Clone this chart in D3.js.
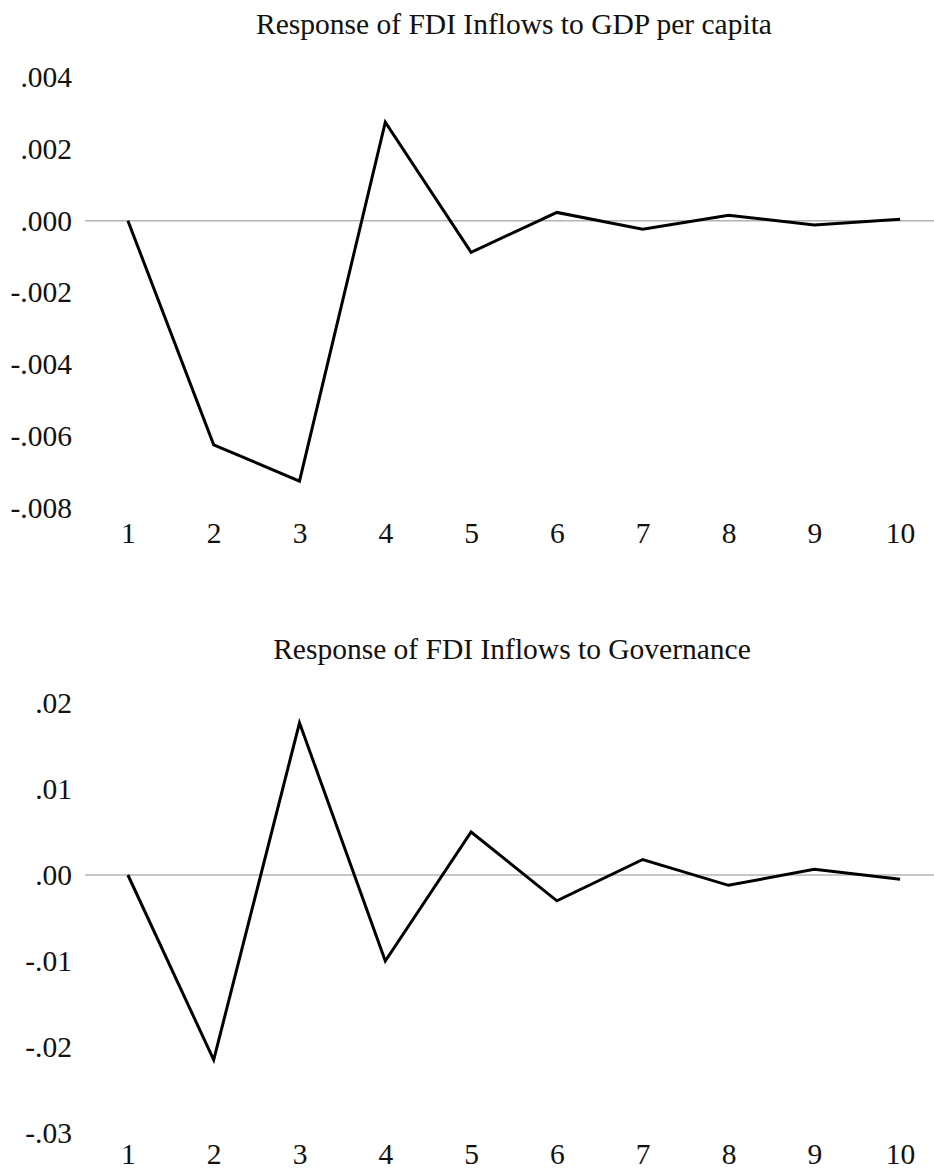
<!DOCTYPE html>
<html>
<head>
<meta charset="utf-8">
<script src="https://cdn.jsdelivr.net/npm/d3@7"></script>
<style>
  body { margin: 0; background: #fff; }
  svg { display: block; font-family: "Liberation Serif", "Times New Roman", serif; }
</style>
</head>
<body>
<div id="chart"></div>
<script>
// impulse response periods
const periods = [1, 2, 3, 4, 5, 6, 7, 8, 9, 10];

// response of FDI inflows to GDP per capita
const gdpResponse = [0.0, -0.00624, -0.00725, 0.00274, -0.00088, 0.00023, -0.00024, 0.00015, -0.00012, 0.00004];
const gdpTicks = [0.004, 0.002, 0.0, -0.002, -0.004, -0.006, -0.008];

// response of FDI inflows to governance
const govResponse = [0.0, -0.0215, 0.0177, -0.0100, 0.0050, -0.0030, 0.0018, -0.0012, 0.00066, -0.0005];
const govTicks = [0.02, 0.01, 0.0, -0.01, -0.02, -0.03];

const width = 934, height = 1171;
const fontSize = 29.5;

const svg = d3.select("#chart").append("svg")
    .attr("width", width)
    .attr("height", height);

const x = d3.scaleLinear()
    .domain([0.5, 10.5])
    .range([85, 943]);

// eviews style tick format: drop the leading zero
function fmt(digits) {
    const f = d3.format(`.${digits}f`);
    return v => f(v).replace("0.", ".").replace("−", "-");
}

function panel(opts) {
    const { title, titleX, titleY, values, ticks, domain, yRange, digits, xLabelY } = opts;
    const y = d3.scaleLinear().domain(domain).range(yRange);
    const g = svg.append("g");

    g.append("text")
        .attr("x", titleX)
        .attr("y", titleY)
        .attr("text-anchor", "middle")
        .attr("font-size", fontSize)
        .attr("fill", "#111")
        .text(title);

    // zero line
    g.append("line")
        .attr("x1", x(0.5))
        .attr("x2", x(10.5))
        .attr("y1", y(0))
        .attr("y2", y(0))
        .attr("stroke", "#b4b4b4")
        .attr("stroke-width", 1.5);

    const yAxis = d3.axisLeft(y)
        .tickValues(ticks)
        .tickFormat(fmt(digits))
        .tickSize(0)
        .tickPadding(0);

    g.append("g")
        .attr("transform", "translate(72,0)")
        .call(yAxis)
        .call(a => a.select(".domain").remove())
        .selectAll("text")
        .attr("font-family", "Liberation Serif")
        .attr("font-size", fontSize)
        .attr("fill", "#111");

    const xAxis = d3.axisBottom(x)
        .tickValues(periods)
        .tickFormat(d3.format("d"))
        .tickSize(0)
        .tickPadding(0);

    g.append("g")
        .attr("transform", `translate(0,${xLabelY})`)
        .call(xAxis)
        .call(a => a.select(".domain").remove())
        .selectAll("text")
        .attr("font-family", "Liberation Serif")
        .attr("font-size", fontSize)
        .attr("fill", "#111");

    const line = d3.line()
        .x((d, i) => x(periods[i]))
        .y(d => y(d));

    g.append("path")
        .datum(values)
        .attr("fill", "none")
        .attr("stroke", "#000")
        .attr("stroke-width", 3)
        .attr("stroke-linejoin", "miter")
        .attr("d", line);
}

panel({
    title: "Response of FDI Inflows to GDP per capita",
    titleX: 514,
    titleY: 34,
    values: gdpResponse,
    ticks: gdpTicks,
    domain: [-0.008, 0.004],
    yRange: [508, 77],
    digits: 3,
    xLabelY: 522
});

panel({
    title: "Response of FDI Inflows to Governance",
    titleX: 512,
    titleY: 659,
    values: govResponse,
    ticks: govTicks,
    domain: [-0.03, 0.02],
    yRange: [1133, 703],
    digits: 2,
    xLabelY: 1143
});
</script>
</body>
</html>
